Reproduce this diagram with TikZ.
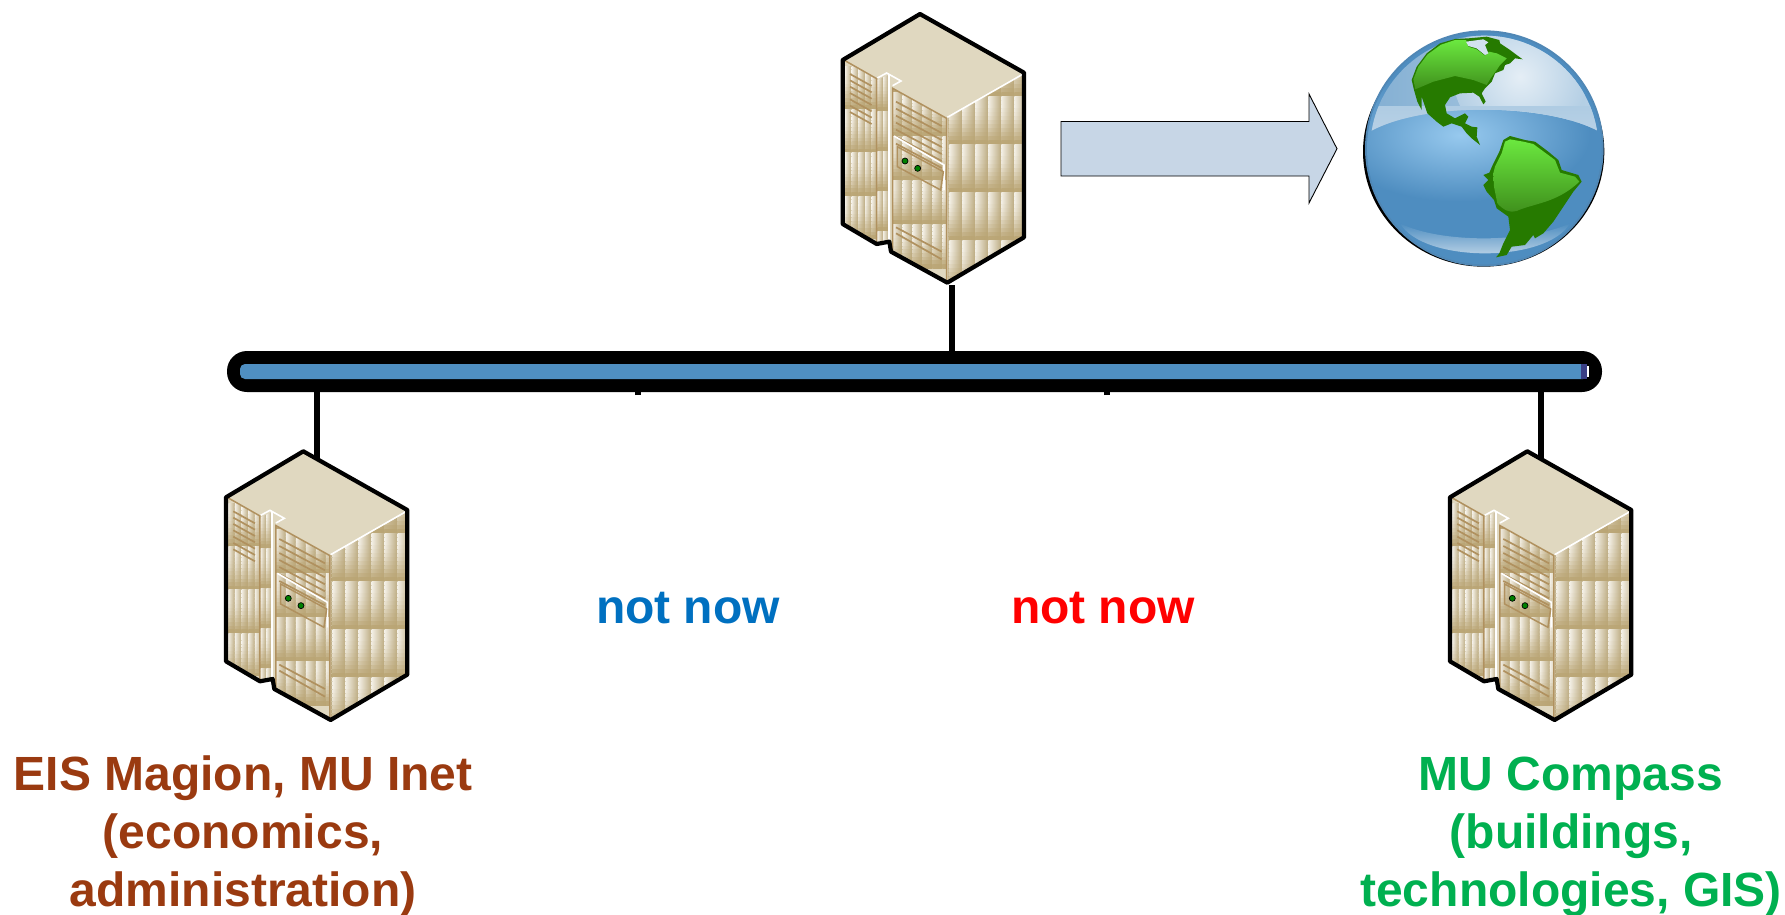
\documentclass[tikz,border=0pt]{standalone}
\usepackage{fontspec}
\setmainfont{Liberation Sans}
\definecolor{tanbase}{HTML}{B9A473}
\definecolor{tanline}{HTML}{B0915F}
\definecolor{cellL}{HTML}{F3EFE5}
\definecolor{cellR}{HTML}{BBAA80}
\definecolor{topface}{HTML}{E0D8C0}
\definecolor{barblue}{HTML}{4F8FC2}
\definecolor{barcap}{HTML}{3A3F85}
\definecolor{arrowfill}{HTML}{C7D6E6}
\definecolor{brownlab}{HTML}{9A3A10}
\definecolor{greenlab}{HTML}{00B050}
\definecolor{bluelab}{HTML}{0070C0}
\definecolor{redlab}{HTML}{FF0000}
\definecolor{landdark}{HTML}{267A00}
\definecolor{landhi}{HTML}{6BE83F}
\definecolor{landlo}{HTML}{3F8F1C}
\definecolor{seamid}{HTML}{4E8DC0}
\definecolor{seahi}{HTML}{97C9EE}
\definecolor{rim}{HTML}{5087B5}
% horizontal shadings: one per height inside a banded cell
\newcommand{\mkcell}[2]{%
  \colorlet{cL#1}{tanbase!#2!cellL}\colorlet{cR#1}{tanbase!#2!cellR}%
  \pgfdeclarehorizontalshading{cell#1}{100bp}{color(0bp)=(cL#1); color(25bp)=(cL#1); color(75bp)=(cR#1); color(100bp)=(cR#1)}}
\mkcell{0}{0}\mkcell{1}{0}\mkcell{2}{0}\mkcell{3}{5}\mkcell{4}{10}\mkcell{5}{18}\mkcell{6}{28}\mkcell{7}{40}\mkcell{8}{52}\mkcell{9}{65}\mkcell{10}{80}\mkcell{11}{95}
% #1 x0, #2 col width, #3 last col index, #4 y0, #5 row height, #6 last row index
\newcommand{\srvcells}[6]{%
  \foreach \rr in {0,...,#6}{\foreach \cc in {0,...,#3}{\foreach \jj in {0,...,11}{%
    \shade[shading=cell\jj] ({#1+\cc*#2},{#4+\rr*#5+\jj*#5/12}) rectangle ++({#2},{#5/12+0.6});
  }}}}
\tikzset{
  wire/.style={line width=6pt,black},
  tanstroke/.style={draw=tanline,line width=1.5pt},
  vent/.style={draw=tanline,line width=1.7pt},
  whitestroke/.style={draw=white,line width=1.6pt},
  lab/.style={font=\fontsize{48}{57.7}\selectfont\bfseries,align=center,anchor=base,inner sep=0pt},
  serverart/.pic={
    \begin{scope}[x=0.33333pt,y=-0.33333pt]
      \fill[topface] (300,42) -- (612,218) -- (612,712) -- (382,848) -- (213,755) -- (208,725) -- (170,732) -- (68,672) -- (68,180) -- cycle;
      \begin{scope}\clip (385,352) -- (608,225) -- (608,712) -- (385,843) -- cycle;
        \srvcells{349}{39}{6}{144}{144}{4}
      \end{scope}
      \begin{scope}\clip (75,185) -- (170,238) -- (170,725) -- (75,668) -- cycle;
        \srvcells{75}{20}{4}{198}{130}{4}
      \end{scope}
      \begin{scope}\clip (172,240) -- (205,225) -- (205,720) -- (172,725) -- cycle;
        \srvcells{172}{17}{1}{213}{120}{4}
      \end{scope}
      \begin{scope}\clip (218,265) -- (380,355) -- (380,840) -- (218,752) -- cycle;
        \srvcells{218}{30}{5}{144}{132}{4}
      \end{scope}
      \fill[topface] (300,48) -- (608,224) -- (382,352) -- (218,262) -- (245,240) -- (203,216) -- (172,232) -- (75,180) -- cycle;
      \draw[whitestroke] (382,352) -- (606,224);
      \draw[whitestroke,line join=miter] (172,234) -- (200,219) -- (243,243) -- (218,257);
      \draw[whitestroke,line width=2pt] (206,222) -- (206,722);
      \draw[tanstroke] (75,182) -- (170,236) -- (170,726);
      \draw[tanstroke] (218,752) -- (218,265) -- (380,355) -- (380,840);
      \foreach \k in {0,...,6}{\draw[vent] (90,{222+\k*19}) -- (155,{258+\k*19});}
      \foreach \k in {0,...,6}{\draw[vent] (228,{305+\k*21}) -- (365,{378+\k*21});}
      \draw[whitestroke] (222,408) -- (372,495) -- (372,570);
      \draw[tanstroke] (232,440) -- (370,515) -- (362,570) -- (232,500) -- cycle;
      \draw[fill=green!50!black,line width=0.7pt] (255,483) circle (9);
      \draw[fill=green!50!black,line width=0.7pt] (293,505) circle (9);
      \draw[vent] (228,682) -- (365,755);
      \draw[vent] (228,700) -- (365,778);
      \draw[line width=4.2pt,line join=round] (300,42) -- (612,218) -- (612,712) -- (382,848) -- (213,755) -- (208,725) -- (170,732) -- (68,672) -- (68,180) -- cycle;
    \end{scope}
  }
}
\begin{document}
\begin{tikzpicture}[x=1pt,y=-1pt]
\useasboundingbox (0,0) rectangle (1785,914);
% named anchors of the network
\coordinate (srvTopPort) at (952,285);
\coordinate (srvLeftPort) at (317,460);
\coordinate (srvRightPort) at (1541,460);
\coordinate (stubA) at (637.5,395);
\coordinate (stubB) at (1106.5,395);
\node[fill=black,rounded corners=20pt,minimum width=1375pt,minimum height=41pt,inner sep=0pt] (bar) at (914.5,371.5) {};
\node[fill=barblue,rounded corners=5pt,minimum width=1348pt,minimum height=15pt,inner sep=0pt] (barcore) at (914,371.5) {};
\fill[barcap] (1581,364) rectangle (1587,379);
\fill[white] (1587,366) rectangle (1589,377);
\draw[wire] (srvTopPort) -- (srvTopPort |- bar.north);
\draw[wire] (srvLeftPort) -- (srvLeftPort |- bar.south);
\draw[wire] (srvRightPort) -- (srvRightPort |- bar.south);
\draw[wire] (stubA) -- (stubA |- bar.south);
\draw[wire] (stubB) -- (stubB |- bar.south);
\pic (srvTop) at (820,0) {serverart};
\pic (srvLeft) at (203.3,437.3) {serverart};
\pic (srvRight) at (1427.3,437.3) {serverart};
% block arrow
\draw[fill=arrowfill,line width=0.9pt,line join=miter] (1061,121.5) -- (1309,121.5) -- (1309,94) -- (1337,148.7) -- (1309,203) -- (1309,176) -- (1061,176) -- cycle;
% globe
\begin{scope}[shift={(1340,10)},x=0.33333pt,y=-0.33333pt]
  \fill[black] (431,425) ellipse [x radius=362,y radius=345];
  \fill[rim] (433,415) ellipse [x radius=358,y radius=354];
  \begin{scope}
    \clip (433,415) ellipse [x radius=352,y radius=348];
    \fill[seamid] (75,60) rectangle (790,770);
    \shade[inner color=seahi,outer color=seamid] (360,375) ellipse [x radius=390,y radius=200];
    \shade[top color=seamid,bottom color=seamid!25!white] (180,640) .. controls (300,700) and (560,700) .. (690,640) .. controls (620,760) and (250,760) .. cycle;
  \end{scope}
  \begin{scope}
    \clip (433,415) ellipse [x radius=342,y radius=338];
    \clip (60,385) .. controls (200,270) and (660,270) .. (810,385) -- (810,0) -- (60,0) -- cycle;
    \shade[left color=seamid!70!white,right color=seamid!40!white] (90,60) rectangle (780,400);
    \shade[inner color=white!85!seamid,outer color=seamid!42!white] (540,200) circle (200);
    \shade[top color=seamid!45!white,bottom color=seamid!38!white] (60,290) rectangle (810,400);
  \end{scope}
  % North America
  \fill[landdark] (385,85) -- (440,80) -- (478,90) -- (480,100) -- (510,120) -- (530,135) -- (548,148) -- (525,145) -- (510,160) -- (495,165) -- (490,180) -- (465,190) -- (455,215) -- (435,235) -- (425,250) -- (437,275) -- (430,283) -- (418,260) -- (400,248) -- (360,250) -- (330,262) -- (315,285) -- (320,310) -- (345,325) -- (375,310) -- (385,320) -- (375,340) -- (395,350) -- (412,352) -- (410,380) -- (420,405) -- (395,385) -- (380,370) -- (365,350) -- (335,340) -- (310,350) -- (290,335) -- (262,310) -- (245,260) -- (245,300) -- (232,275) -- (222,240) -- (215,210) -- (230,170) -- (260,130) -- (300,100) -- (345,87) -- cycle;
  \shade[top color=landhi,bottom color=landlo] (378,90) -- (385,110) -- (410,118) -- (435,137) -- (447,125) -- (470,130) -- (500,145) -- (480,165) -- (470,180) -- (452,205) -- (440,225) -- (400,210) -- (345,198) -- (280,215) -- (226,238) -- (220,208) -- (235,170) -- (263,133) -- (303,104) -- (345,90) -- cycle;
  \fill[white!75!seamid] (378,95) -- (430,88) -- (445,97) -- (435,105) -- (445,130) -- (435,135) -- (410,115) -- (385,108) -- cycle;
  % South America
  \fill[landdark] (510,378) -- (490,390) -- (478,425) -- (458,465) -- (448,488) -- (430,495) -- (445,510) -- (430,525) -- (440,545) -- (462,570) -- (470,595) -- (505,620) -- (510,660) -- (490,700) -- (478,730) -- (468,742) -- (500,735) -- (515,710) -- (555,705) -- (580,675) -- (585,685) -- (610,670) -- (640,635) -- (670,590) -- (700,545) -- (725,515) -- (715,495) -- (665,480) -- (655,450) -- (625,425) -- (585,395) -- (555,390) -- cycle;
  \shade[top color=landhi,bottom color=landlo] (510,388) -- (495,395) -- (485,430) -- (465,470) -- (460,490) -- (462,530) -- (472,580) .. controls (490,600) and (510,610) .. (530,603) .. controls (580,580) and (650,580) .. (718,515) -- (705,500) -- (660,488) -- (645,450) -- (615,428) -- (580,402) -- (550,395) -- cycle;
\end{scope}
% labels
\node[lab,text=bluelab] (nowA) at (688,623) {not now};
\node[lab,text=redlab] (nowB) at (1103,623) {not now};
\node[lab,text=brownlab] (labLeft) at (243,906) {EIS Magion, MU Inet\\(economics,\\administration)};
\node[lab,text=greenlab] (labRight) at (1571,906) {MU Compass\\(buildings,\\technologies, GIS)};
\end{tikzpicture}
\end{document}
